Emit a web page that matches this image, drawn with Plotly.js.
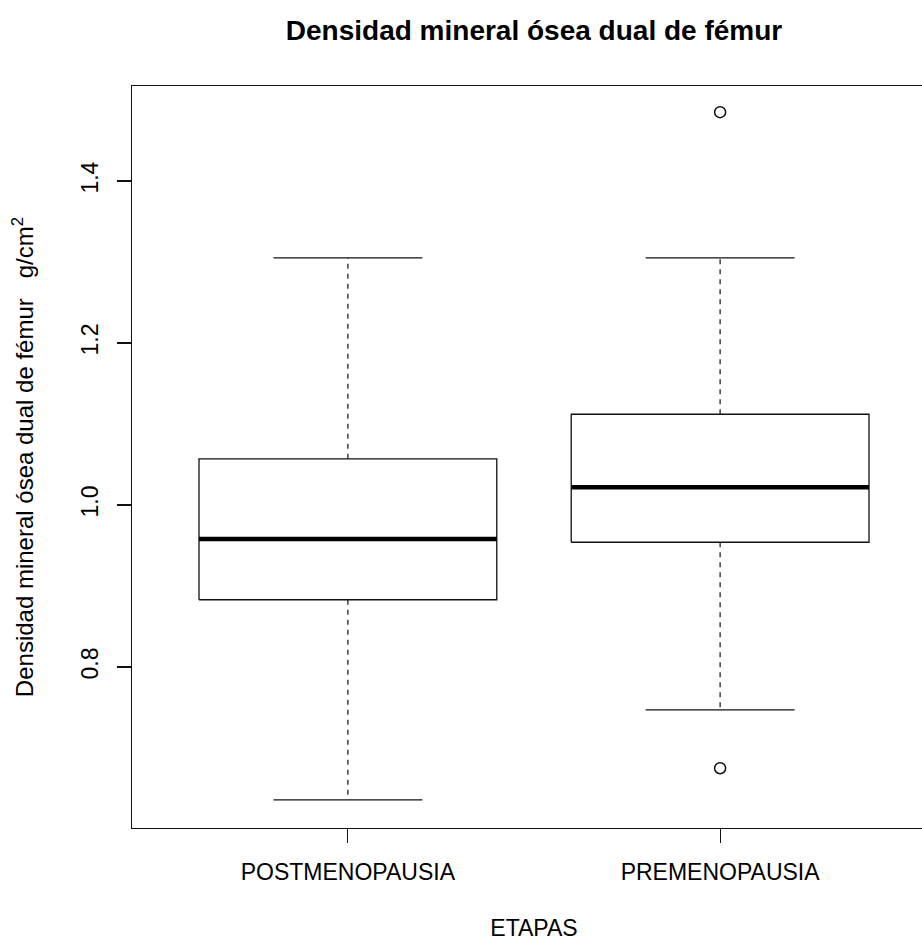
<!DOCTYPE html>
<html>
<head>
<meta charset="utf-8">
<script src="https://cdn.plot.ly/plotly-3.0.1.min.js"></script>
<style>
  html, body { margin: 0; padding: 0; background: #fff; overflow: hidden; }
  #chart { width: 960px; height: 941px; }
</style>
</head>
<body>
<div id="chart"></div>
<script>
// ---- data ----
const categories = ['POSTMENOPAUSIA', 'PREMENOPAUSIA'];
const lowerWhisker = [0.636, 0.747];
const q1 = [0.883, 0.954];
const median = [0.958, 1.022];
const q3 = [1.057, 1.112];
const upperWhisker = [1.305, 1.305];
const outlierCategory = ['PREMENOPAUSIA', 'PREMENOPAUSIA'];
const outlierValues = [1.485, 0.675];
const yTickValues = [0.8, 1.0, 1.2, 1.4];
const yTickLabels = ['0.8', '1.0', '1.2', '1.4'];

// ---- build traces ----
const boxHalf = 0.4, capHalf = 0.2;
const lineColor = '#111';
const traces = [];
categories.forEach((cat, i) => {
  const p = i + 1;
  // whiskers (dashed)
  traces.push({
    type: 'scatter', mode: 'lines', hoverinfo: 'skip', showlegend: false,
    x: [p, p, null, p, p],
    y: [q3[i], upperWhisker[i], null, q1[i], lowerWhisker[i]],
    line: { color: lineColor, width: 1.2, dash: '5px,5px' }
  });
  // caps
  traces.push({
    type: 'scatter', mode: 'lines', hoverinfo: 'skip', showlegend: false,
    x: [p - capHalf, p + capHalf, null, p - capHalf, p + capHalf],
    y: [upperWhisker[i], upperWhisker[i], null, lowerWhisker[i], lowerWhisker[i]],
    line: { color: lineColor, width: 1.3 }
  });
  // box
  traces.push({
    type: 'scatter', mode: 'lines', hoverinfo: 'skip', showlegend: false,
    x: [p - boxHalf, p + boxHalf, p + boxHalf, p - boxHalf, p - boxHalf],
    y: [q1[i], q1[i], q3[i], q3[i], q1[i]],
    line: { color: lineColor, width: 1.3 }
  });
  // median
  traces.push({
    type: 'scatter', mode: 'lines', hoverinfo: 'skip', showlegend: false,
    x: [p - boxHalf, p + boxHalf],
    y: [median[i], median[i]],
    line: { color: '#000', width: 4.5 }
  });
});
// outliers
traces.push({
  type: 'scatter', mode: 'markers', hoverinfo: 'skip', showlegend: false,
  x: outlierCategory.map(c => categories.indexOf(c) + 1),
  y: outlierValues,
  marker: { symbol: 'circle-open', size: 11, color: lineColor, line: { width: 1.5 } }
});

const font = { family: 'Liberation Sans, Arial, Helvetica, sans-serif', color: '#000' };

const layout = {
  width: 960, height: 941,
  margin: { l: 132, r: 24, t: 86, b: 113 },
  paper_bgcolor: '#fff', plot_bgcolor: '#fff',
  font: Object.assign({}, font, { size: 23 }),
  title: {
    text: '<b>Densidad mineral ósea dual de fémur</b>',
    font: Object.assign({}, font, { size: 28 }),
    x: 0.5, xref: 'paper', xanchor: 'center',
    y: 0.968, yref: 'container', yanchor: 'middle'
  },
  xaxis: {
    range: [0.42, 2.58],
    tickmode: 'array', tickvals: categories.map((c, i) => i + 1), ticktext: categories,
    ticks: 'outside', ticklen: 14, tickwidth: 1.2, tickcolor: lineColor,
    ticklabelstandoff: 9,
    showline: true, mirror: true, linecolor: lineColor, linewidth: 1.3,
    showgrid: false, zeroline: false,
    tickfont: Object.assign({}, font, { size: 23 }),
    title: { text: 'ETAPAS', font: Object.assign({}, font, { size: 23 }), standoff: 36 }
  },
  yaxis: {
    range: [0.6012, 1.5173],
    tickmode: 'array', tickvals: yTickValues, ticktext: yTickLabels,
    ticks: 'outside', ticklen: 14, tickwidth: 1.2, tickcolor: lineColor,
    tickangle: -90, ticklabelstandoff: 10,
    showline: true, mirror: true, linecolor: lineColor, linewidth: 1.3,
    showgrid: false, zeroline: false,
    tickfont: Object.assign({}, font, { size: 23 }),
    title: { text: 'Densidad mineral ósea dual de fémur   g/cm<sup>2</sup>', font: Object.assign({}, font, { size: 24 }), standoff: 36 }
  }
};

Plotly.newPlot('chart', traces, layout, { staticPlot: true, displayModeBar: false });
</script>
</body>
</html>
